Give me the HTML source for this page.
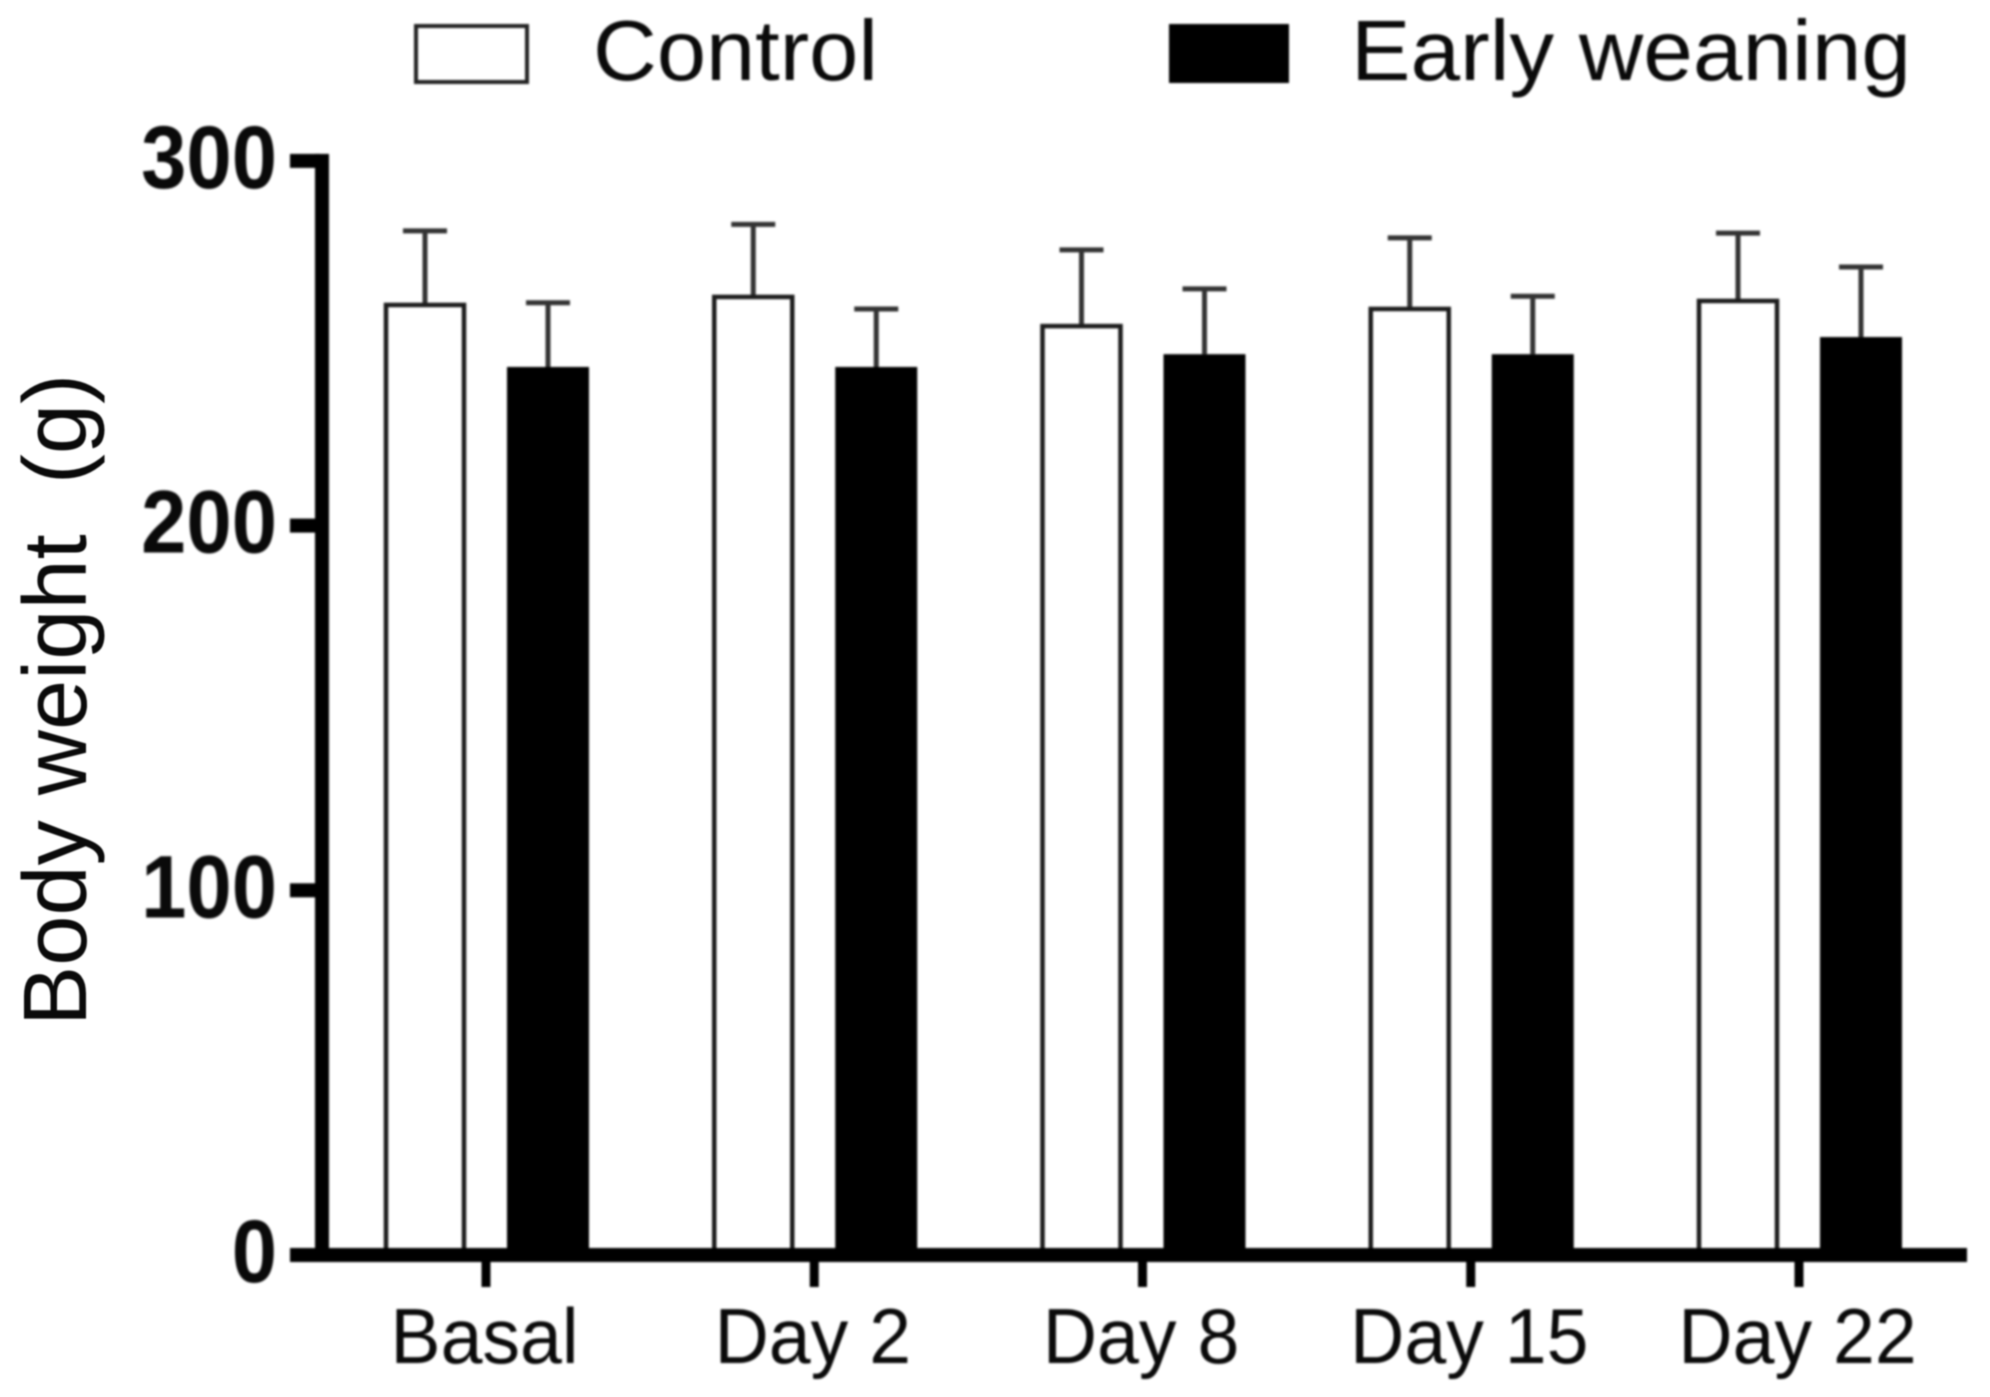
<!DOCTYPE html>
<html lang="en">
<head>
<meta charset="utf-8">
<title>Body weight chart</title>
<style>
html,body{margin:0;padding:0;background:#fff;width:1990px;height:1397px;overflow:hidden}
svg{display:block}
text{font-family:"Liberation Sans",sans-serif;fill:#0a0a0a;white-space:pre}
</style>
</head>
<body>
<svg id="chart" width="1990" height="1397" viewBox="0 0 1990 1397" xmlns="http://www.w3.org/2000/svg">
  <rect x="0" y="0" width="1990" height="1397" fill="#fff"/>
  <g id="marks" style="filter:blur(1px)"></g>
  <g id="axes" style="filter:blur(1px)"></g>
  <g style="filter:blur(1px)">
    <rect x="416" y="26" width="111" height="56" fill="#fff" stroke="#222" stroke-width="4"/>
    <text x="593" y="80" font-size="85" textLength="285" lengthAdjust="spacingAndGlyphs">Control</text>
    <rect x="1169" y="24" width="120" height="59" fill="#000"/>
    <text x="1351" y="80" font-size="85" textLength="560" lengthAdjust="spacingAndGlyphs">Early weaning</text>
  </g>
  <text transform="translate(86,1026) rotate(-90) scale(1.003,1)" font-size="90" style="filter:blur(0.8px)">Body weight  (g)</text>
</svg>
<script>
const categories = ['Basal', 'Day 2', 'Day 8', 'Day 15', 'Day 22'];
const controlValues = [260.5, 262.7, 254.7, 259.4, 261.6];
const earlyValues = [243.5, 243.5, 247, 247, 251.7];
const controlErrors = [20.3, 19.9, 20.9, 19.5, 18.6];
const earlyErrors = [17.6, 15.9, 17.9, 15.9, 19.2];
const yTickValues = [0, 100, 200, 300];

const NS = 'http://www.w3.org/2000/svg';
const marks = document.getElementById('marks');
const axes = document.getElementById('axes');
const yZero = 1255;
const yScale = 3.647;
const yOf = function (v) { return yZero - v * yScale; };
const xOf = function (i) { return 486 + i * 328.25; };

function make(tag, parent, attrs) {
  const el = document.createElementNS(NS, tag);
  Object.keys(attrs).forEach(function (k) { el.setAttribute(k, attrs[k]); });
  parent.appendChild(el);
  return el;
}

categories.forEach(function (cat, i) {
  const key = cat.toLowerCase().replace(/\s+/g, '-');
  const cx = xOf(i) - 61;
  const ex = xOf(i) + 62;

  const cErr = make('path', marks, {
    d: 'M' + cx + ' ' + yOf(controlValues[i]) + 'V' + yOf(controlValues[i] + controlErrors[i]) + 'M' + (cx - 22) + ' ' + yOf(controlValues[i] + controlErrors[i]) + 'H' + (cx + 22),
    fill: 'none', stroke: '#333', 'stroke-width': 5
  });
  
  

  const cBar = make('rect', marks, {
    x: cx - 39, y: yOf(controlValues[i]), width: 78, height: yZero - yOf(controlValues[i]),
    fill: '#fff', stroke: '#1c1c1c', 'stroke-width': 4.5
  });
  
  

  const eErr = make('path', marks, {
    d: 'M' + ex + ' ' + yOf(earlyValues[i]) + 'V' + yOf(earlyValues[i] + earlyErrors[i]) + 'M' + (ex - 22) + ' ' + yOf(earlyValues[i] + earlyErrors[i]) + 'H' + (ex + 22),
    fill: 'none', stroke: '#333', 'stroke-width': 5
  });
  
  

  const eBar = make('rect', marks, {
    x: ex - 41, y: yOf(earlyValues[i]), width: 82, height: yZero - yOf(earlyValues[i]),
    fill: '#000'
  });
  
  

  const tick = make('rect', axes, { x: xOf(i) - 4.5, y: yZero, width: 9, height: 32, fill: '#000' });
  
  

  const label = make('text', axes, {
    transform: 'translate(' + (xOf(i) - 1.5) + ',1363) scale(0.965,1)',
    'font-size': 78, 'text-anchor': 'middle'
  });
  label.textContent = cat;
  
  
});

const yAxisLine = make('rect', axes, { x: 315, y: yOf(300) - 7, width: 14, height: yZero - yOf(300) + 13, fill: '#000' });



const xAxisLine = make('rect', axes, { x: 290, y: yZero - 7, width: 1677, height: 14, fill: '#000' });



yTickValues.forEach(function (v) {
  const tick = make('rect', axes, { x: 290, y: yOf(v) - 7, width: 30, height: 14, fill: '#000' });
  
  

  const label = make('text', axes, {
    transform: 'translate(277,' + (yOf(v) + 27) + ') scale(0.915,1)',
    'font-size': 89, 'font-weight': 'bold', 'text-anchor': 'end'
  });
  label.textContent = String(v);
  
  
});
</script>
</body>
</html>
